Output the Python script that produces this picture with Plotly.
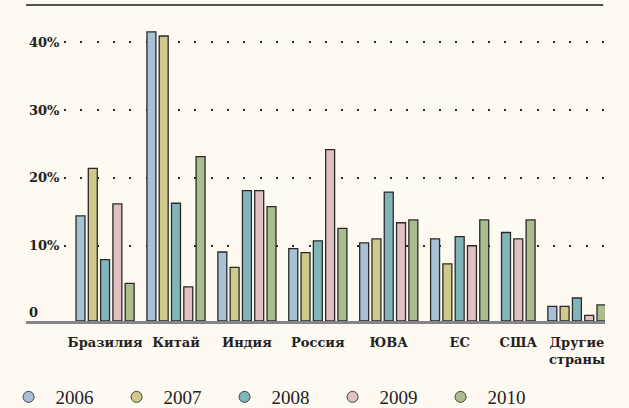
import plotly.graph_objects as go

countries = ["Бразилия", "Китай", "Индия", "Россия", "ЮВА", "ЕС", "США", "Другие<br>страны"]
years = ["2006", "2007", "2008", "2009", "2010"]

v2006 = [15.1, 41.5, 9.9, 10.4, 11.2, 11.8, None, 2.1]
v2007 = [21.9, 40.9, 7.7, 9.8, 11.8, 8.2, None, 2.1]
v2008 = [8.8, 16.9, 18.7, 11.5, 18.5, 12.1, 12.7, 3.3]
v2009 = [16.8, 4.9, 18.7, 24.6, 14.1, 10.8, 11.8, 0.8]
v2010 = [5.4, 23.6, 16.4, 13.3, 14.5, 14.5, 14.5, 2.3]
series = [v2006, v2007, v2008, v2009, v2010]

grid_vals = [10, 20, 30, 40]
grid_text = ["10%", "20%", "30%", "40%"]

colors = ["#a7c2d5", "#d0c98a", "#80b6b9", "#e0c0c0", "#abbc8e"]
bg = "#fef9f1"
ink = "#222222"

# bars are packed one after another, with an extra gap between countries
GAP = 0.77
pos = {}
centers = []
cursor = 0
for i in range(len(countries)):
    start = cursor
    for k, vals in enumerate(series):
        if vals[i] is not None:
            pos[(i, k)] = cursor
            cursor += 1
    centers.append((start + cursor - 1) / 2)
    cursor += GAP
last = cursor - GAP - 1

fig = go.Figure()

for k, vals in enumerate(series):
    xs, ys = [], []
    for i, v in enumerate(vals):
        if v is not None:
            xs.append(pos[(i, k)])
            ys.append(v)
    fig.add_trace(go.Bar(
        x=xs, y=ys, width=0.73,
        marker=dict(color=colors[k], line=dict(color="#2a2a2a", width=1.3)),
        showlegend=False,
    ))

# legend entries with round markers
for k, yr in enumerate(years):
    fig.add_trace(go.Scatter(
        x=[None], y=[None], mode="markers", name=yr,
        marker=dict(symbol="circle", size=11, color=colors[k],
                    line=dict(color="#444444", width=1)),
    ))

# a dotted grid that starts right after the labels
dots = ["0px", "38px"] + ["2px", "14.3px"] * 34
dash = ",".join(dots)

unit = (601.5 - 80.5) / last
x_lo = -(80.5 - 26) / unit
x_hi = last + (605 - 601.5) / unit

label_font = dict(family="DejaVu Serif", size=13, color=ink, weight="bold")

fig.update_layout(
    width=629, height=408,
    margin=dict(l=26, r=24, t=5, b=87),
    paper_bgcolor=bg, plot_bgcolor=bg,
    barmode="overlay",
    showlegend=True,
    legend=dict(
        orientation="h", xref="container", yref="container",
        x=0.0025, y=0.0735, xanchor="left", yanchor="top",
        font=dict(family="Liberation Serif", size=19, color=ink),
        itemwidth=44, entrywidth=49, bgcolor="rgba(0,0,0,0)",
    ),
    xaxis=dict(
        range=[x_lo, x_hi], tickvals=centers, ticktext=countries,
        showgrid=False, zeroline=False,
        showline=True, linecolor="#858585", linewidth=2.5,
        ticks="", ticklabelstandoff=8, tickfont=label_font,
    ),
    yaxis=dict(
        range=[0, 45.35], tickvals=[0], ticktext=["0"],
        showgrid=False, zeroline=False, ticks="",
        ticklabelposition="inside", ticklabelshift=-9, tickfont=label_font,
    ),
    # labels and dotted grid of the value scale
    yaxis2=dict(
        overlaying="y", side="left", range=[-1.1, 45.5],
        tickvals=grid_vals, ticktext=grid_text,
        showgrid=True, gridcolor="#2b2b2b", gridwidth=2, griddash=dash,
        zeroline=False, ticks="", ticklabelposition="inside",
        tickfont=label_font,
    ),
    shapes=[dict(type="line", xref="paper", yref="paper", x0=0, x1=0.997,
                 y0=1, y1=1, line=dict(color="#1a1a1a", width=1.5))],
)

# an empty trace so that the second y axis is drawn
fig.add_trace(go.Scatter(x=[None], y=[None], yaxis="y2", showlegend=False))

fig.write_html("out.html", config={"displayModeBar": False},
               post_script="document.body.style.margin='0';")
